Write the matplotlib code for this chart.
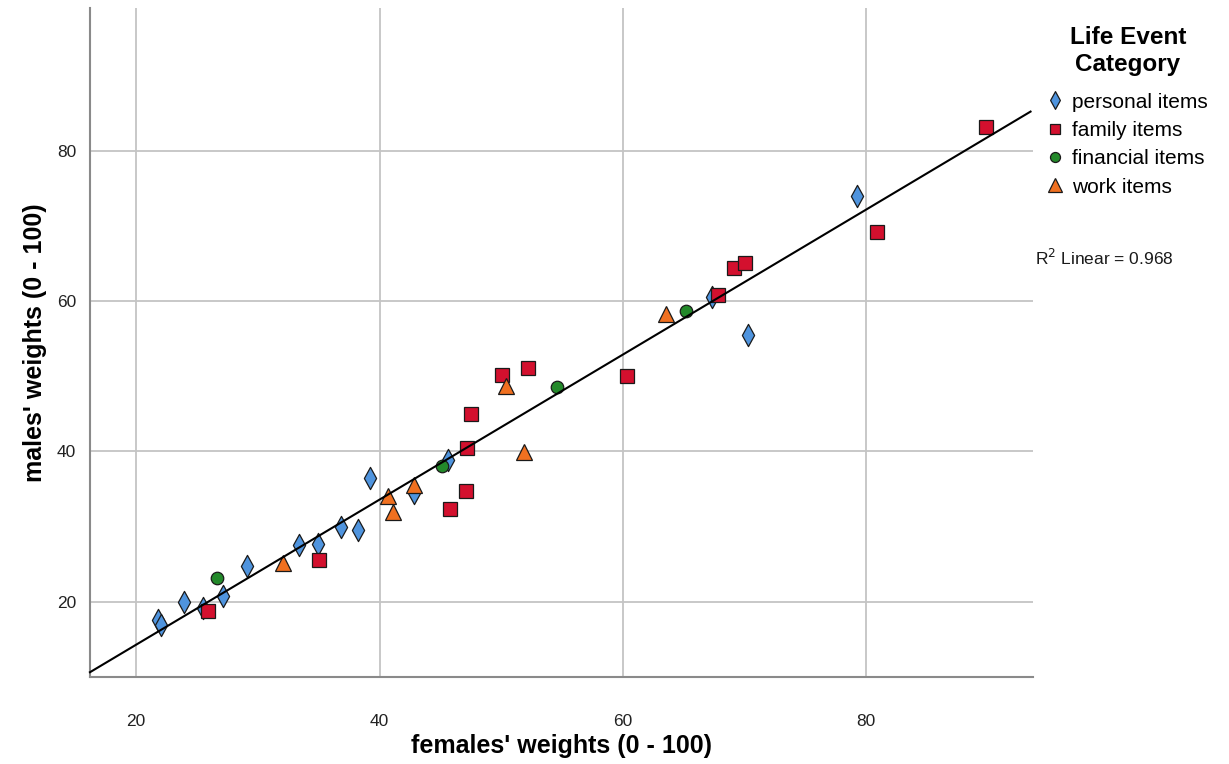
import numpy as np
import matplotlib.pyplot as plt
from matplotlib.path import Path

# females' vs males' weights per life event, grouped by category
personal_x = [21.8, 22.0, 23.9, 25.5, 27.1, 29.1, 33.4, 34.9, 36.8, 38.2, 39.2, 42.8, 45.6, 67.3, 70.3, 79.2]
personal_y = [17.6, 16.9, 19.9, 19.1, 20.7, 24.8, 27.6, 27.7, 30.0, 29.6, 36.5, 34.5, 38.9, 60.5, 55.5, 73.9]

family_x = [25.9, 35.0, 45.8, 47.1, 47.2, 47.5, 50.1, 52.2, 60.3, 67.8, 69.1, 70.0, 80.9, 89.8]
family_y = [18.7, 25.5, 32.3, 34.7, 40.4, 44.9, 50.1, 51.1, 50.0, 60.8, 64.4, 65.1, 69.2, 83.1]

financial_x = [26.6, 45.1, 54.6, 65.2]
financial_y = [23.1, 38.0, 48.5, 58.7]

work_x = [32.1, 40.7, 41.1, 42.8, 50.4, 51.9, 63.5]
work_y = [25.2, 34.0, 31.9, 35.5, 48.7, 39.9, 58.3]

r2_text = '0.968'

plt.rcParams['font.family'] = ['Liberation Sans', 'DejaVu Sans']
label_font = ['Liberation Sans Narrow', 'Liberation Sans']

# narrow diamond, about twice as tall as wide
diamond = Path([(0, 1), (0.55, 0), (0, -1), (-0.55, 0), (0, 1)],
               [Path.MOVETO, Path.LINETO, Path.LINETO, Path.LINETO, Path.CLOSEPOLY])

fig = plt.figure(figsize=(12.29, 7.64), dpi=100)
ax = fig.add_axes([0.0732, 0.114, 0.7673, 0.876])

xmin, xmax = 16.2, 93.7
ax.set_xlim(xmin, xmax)
ax.set_ylim(10, 99)

ax.set_xticks([20, 40, 60, 80])
ax.set_yticks([20, 40, 60, 80])
ax.grid(True, color='#c4c4c4', linewidth=1.3)
ax.set_axisbelow(True)
ax.tick_params(length=0, labelsize=12.5, colors='#222222')
ax.tick_params(axis='x', pad=27)
ax.tick_params(axis='y', pad=10)

for side in ['top', 'right']:
    ax.spines[side].set_visible(False)
for side in ['left', 'bottom']:
    ax.spines[side].set_color('#8a8a8a')
    ax.spines[side].set_linewidth(1.5)

edge = dict(markeredgecolor='#1a1a1a', markeredgewidth=0.9, linestyle='none')
ax.plot(personal_x, personal_y, marker=diamond, markersize=16, color='#4f94de',
        label='personal items', **edge)
ax.plot(family_x, family_y, marker='s', markersize=9.5, color='#d3102e',
        label='family items', **edge)
ax.plot(financial_x, financial_y, marker='o', markersize=9, color='#23892a',
        label='financial items', **edge)
ax.plot(work_x, work_y, marker='^', markersize=12, color='#f07020',
        label='work items', **edge)

# linear fit over all items
all_x = np.array(personal_x + family_x + financial_x + work_x)
all_y = np.array(personal_y + family_y + financial_y + work_y)
slope, intercept = np.polyfit(all_x, all_y, 1)
xs = np.array([xmin, xmax - 0.2])
ax.plot(xs, intercept + slope * xs, color='black', linewidth=1.5, zorder=5, clip_on=False)

ax.set_xlabel("females' weights (0 - 100)", fontsize=18, fontweight='bold',
              family=label_font, labelpad=3)
ax.set_ylabel("males' weights (0 - 100)", fontsize=18, fontweight='bold',
              family=label_font, labelpad=7)

leg = fig.legend(loc='upper left', bbox_to_anchor=(0.838, 0.99), frameon=False,
                 title='Life Event\nCategory', fontsize=15, markerscale=0.8,
                 handlelength=0.6, handletextpad=0.5, labelspacing=0.45,
                 title_fontproperties={'weight': 'bold', 'size': 17.5})
leg.get_title().set_multialignment('center')
leg._legend_box.sep = 12

fig.text(0.842, 0.663, r'R$^2$ Linear = ' + r2_text, fontsize=12.5, color='#1a1a1a',
         va='center', ha='left')

fig.savefig('out.png', dpi=100)
